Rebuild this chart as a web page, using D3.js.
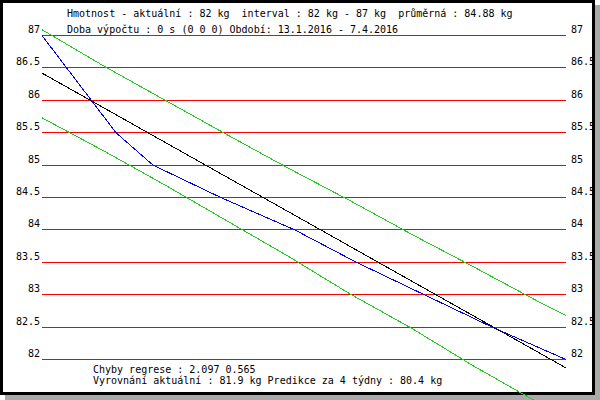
<!DOCTYPE html>
<html>
<head>
<meta charset="utf-8">
<script src="https://cdn.jsdelivr.net/npm/d3@7"></script>
<style>
  body { margin: 0; background: #fff; }
  text { font-family: "DejaVu Sans Mono", monospace; font-size: 10px; fill: #000; white-space: pre; }
</style>
</head>
<body>
<div id="chart"></div>
<script>
// weight curve (blue)
var weightDates = ["13.1.2016", "17.1.2016", "21.1.2016", "25.1.2016", "31.1.2016", "11.2.2016",
                   "23.2.2016", "4.3.2016", "15.3.2016", "26.3.2016", "7.4.2016"];
var weightValues = [87.0, 86.5, 86.0, 85.5, 85.0, 84.5, 84.0, 83.5, 83.0, 82.5, 82.0];

// regression line (black)
var regDates = ["13.1.2016", "7.4.2016"];
var regValues = [86.42, 81.87];

// band around regression (green)
var bandDates = ["13.1.2016", "23.1.2016", "2.2.2016", "12.2.2016", "22.2.2016", "3.3.2016",
                 "13.3.2016", "23.3.2016", "2.4.2016", "7.4.2016"];
var bandUpper = [87.09, 86.53, 86.0, 85.47, 84.95, 84.45, 83.93, 83.43, 82.92, 82.68];
var bandLower = [85.73, 85.22, 84.69, 84.14, 83.59, 83.01, 82.48, 81.9, 81.36, 81.07];

var yTicks = [82, 82.5, 83, 83.5, 84, 84.5, 85, 85.5, 86, 86.5, 87];

var headerLines = ["Hmotnost - aktuální : 82 kg  interval : 82 kg - 87 kg  průměrná : 84.88 kg",
                   "Doba výpočtu : 0 s (0 0 0) Období: 13.1.2016 - 7.4.2016"];
var footerLines = ["Chyby regrese : 2.097 0.565",
                   "Vyrovnání aktuální : 81.9 kg Predikce za 4 týdny : 80.4 kg"];

var parseDate = d3.timeParse("%d.%m.%Y");
function pairs(dates, vals) {
  return dates.map(function (d, i) { return { date: parseDate(d), value: vals[i] }; });
}

var width = 600, height = 400;
var svg = d3.select("#chart").append("svg")
  .attr("width", width)
  .attr("height", height);

// x from first to last date, y 82..87
var x = d3.scaleTime()
  .domain([parseDate("13.1.2016"), parseDate("7.4.2016")])
  .range([42, 566]);
var y = d3.scaleLinear()
  .domain([82, 87])
  .range([359.5, 35.5]);

// shadow + background
svg.append("rect").attr("x", 5).attr("y", 5).attr("width", 595).attr("height", 395).attr("fill", "#aaaaaa");
svg.append("rect").attr("x", 0).attr("y", 0).attr("width", 595).attr("height", 395).attr("fill", "#ffffff");

svg.append("clipPath").attr("id", "inside")
  .append("rect").attr("x", 0).attr("y", 0).attr("width", 592).attr("height", 392);

var grid = svg.append("g").attr("clip-path", "url(#inside)");

grid.selectAll("line.grid")
  .data(yTicks)
  .enter().append("line")
    .attr("class", "grid")
    .attr("x1", x.range()[0])
    .attr("x2", x.range()[1])
    .attr("y1", function (d) { return y(d); })
    .attr("y2", function (d) { return y(d); })
    .attr("stroke", "#ff0000")
    .attr("stroke-width", 1)
    .attr("shape-rendering", "crispEdges");

// labels left and right
grid.selectAll("text.left")
  .data(yTicks)
  .enter().append("text")
    .attr("class", "left")
    .attr("x", 40)
    .attr("y", function (d) { return y(d) - 2.5; })
    .attr("text-anchor", "end")
    .text(function (d) { return String(d); });

grid.selectAll("text.right")
  .data(yTicks)
  .enter().append("text")
    .attr("class", "right")
    .attr("x", 571)
    .attr("y", function (d) { return y(d) - 2.5; })
    .text(function (d) { return String(d); });

grid.selectAll("text.head")
  .data(headerLines)
  .enter().append("text")
    .attr("class", "head")
    .attr("x", 67)
    .attr("y", function (d, i) { return 17 + i * 16; })
    .text(function (d) { return d; });

grid.selectAll("text.foot")
  .data(footerLines)
  .enter().append("text")
    .attr("class", "foot")
    .attr("x", 93)
    .attr("y", function (d, i) { return 373 + i * 10.5; })
    .text(function (d) { return d; });

// frame
svg.append("rect")
  .attr("x", 1.5).attr("y", 1.5)
  .attr("width", 592).attr("height", 392)
  .attr("fill", "none")
  .attr("stroke", "#000")
  .attr("stroke-width", 3);

var line = d3.line()
  .x(function (d) { return x(d.date); })
  .y(function (d) { return y(d.value); });

function drawLine(data, color) {
  svg.append("path")
    .datum(data)
    .attr("fill", "none")
    .attr("stroke", color)
    .attr("stroke-width", 1)
    .attr("shape-rendering", "crispEdges")
    .attr("d", line);
}

drawLine(pairs(bandDates, bandUpper), "#22cc22");
drawLine(pairs(bandDates, bandLower), "#22cc22");
drawLine(pairs(regDates, regValues), "#000000");
drawLine(pairs(weightDates, weightValues), "#0000ee");
</script>
</body>
</html>
